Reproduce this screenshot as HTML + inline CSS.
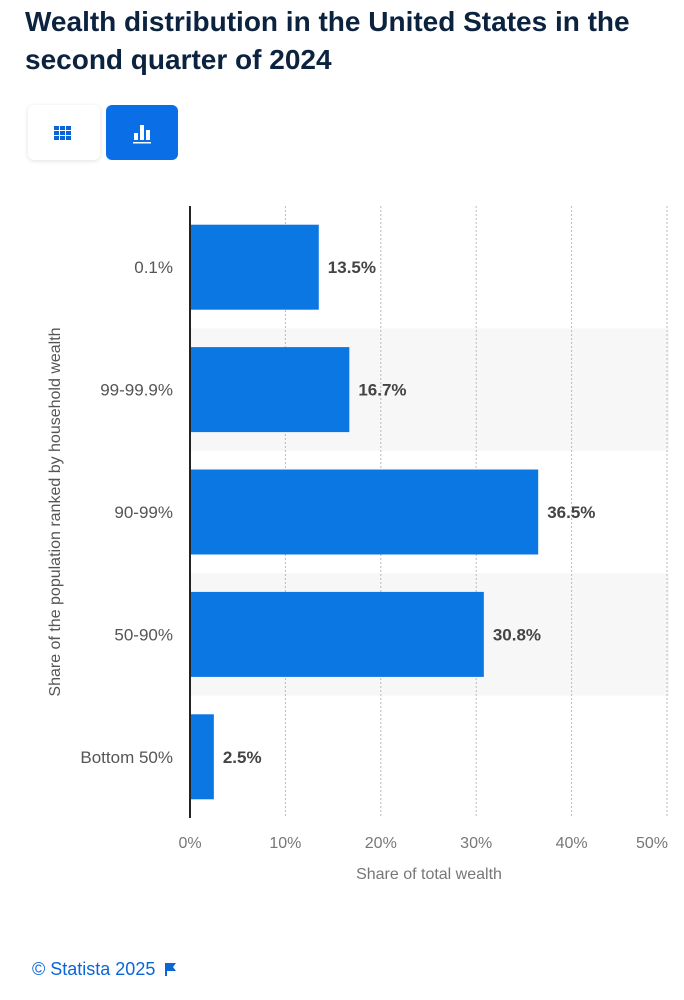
<!DOCTYPE html>
<html><head><meta charset="utf-8"><style>
body{margin:0;width:684px;height:1000px;background:#fff;font-family:"Liberation Sans",sans-serif;position:relative;overflow:hidden}
h1{position:absolute;left:25px;top:3px;margin:0;font-size:28px;line-height:38px;color:#0c2340;font-weight:bold;width:650px}
.btn{position:absolute;top:105px;width:72px;height:55px;border-radius:6px}
#foot{position:absolute;left:32px;top:959px;font-size:18px;color:#0a66d6}
</style></head><body>
<h1>Wealth distribution in the United States in the second quarter of 2024</h1>
<div class="btn" style="left:28px;background:#fff;box-shadow:0 1px 5px rgba(0,0,0,.12)">
<svg width="72" height="55"><g fill="#0a66d6"><rect x="26" y="21" width="5" height="4"/><rect x="32" y="21" width="5" height="4"/><rect x="38" y="21" width="5" height="4"/><rect x="26" y="26" width="5" height="4"/><rect x="32" y="26" width="5" height="4"/><rect x="38" y="26" width="5" height="4"/><rect x="26" y="31" width="5" height="4"/><rect x="32" y="31" width="5" height="4"/><rect x="38" y="31" width="5" height="4"/></g></svg></div>
<div class="btn" style="left:106px;background:#0a6fe6">
<svg width="72" height="55"><g fill="#fff"><rect x="28" y="28" width="4" height="7"/><rect x="34" y="20" width="4" height="15"/><rect x="40" y="25" width="4" height="10"/><rect x="27" y="37" width="18" height="1.5"/></g></svg></div>
<svg id="chart" width="684" height="900" style="position:absolute;left:0;top:0"></svg>
<div id="foot">© Statista 2025 <svg width="14" height="14" style="vertical-align:-1px;margin-left:4px"><path d="M2 1v13" stroke="#0a66d6" stroke-width="2"/><path d="M3 1h9l-3 4 3 4H3z" fill="#0a66d6"/></svg></div>
<script>
const categories=["0.1%","99-99.9%","90-99%","50-90%","Bottom 50%"];
const values=[13.5,16.7,36.5,30.8,2.5];
const ticks=[0,10,20,30,40,50];
const NS="http://www.w3.org/2000/svg",svg=document.getElementById('chart');
const x0=190,x1=667,plotTop=206,plotBottom=818,xmax=50;
const X=v=>x0+(x1-x0)*v/xmax,band=(plotBottom-plotTop)/categories.length,Y=i=>plotTop+band*i;
function mk(t,a,p){const e=document.createElementNS(NS,t);for(const k in a)e.setAttribute(k,a[k]);(p||svg).appendChild(e);return e}
categories.forEach((c,i)=>{if(i%2){const r=mk('rect',{x:x0,y:Y(i),width:x1-x0+2,height:band,fill:'#f7f7f7'});

}});
ticks.forEach(t=>{if(t>0){const l=mk('line',{x1:X(t),x2:X(t),y1:plotTop,y2:plotBottom,stroke:'#bbb','stroke-dasharray':'2,2'});

}
const tx=mk('text',{x:X(t)+(t==50?-15:0),y:848,'text-anchor':'middle','font-size':16,fill:'#777'});tx.textContent=t+'%';

});
categories.forEach((c,i)=>{const cy=Y(i)+band/2;
const b=mk('rect',{x:x0,y:cy-42.5,width:X(values[i])-x0,height:85,fill:'#0a77e3'});


const v=mk('text',{x:X(values[i])+9,y:cy+6,'font-size':17,'font-weight':'bold',fill:'#444'});v.textContent=values[i]+'%';


const l=mk('text',{x:173,y:cy+6,'text-anchor':'end','font-size':17,fill:'#555'});l.textContent=c;

});
const ax=mk('line',{x1:x0,x2:x0,y1:plotTop,y2:plotBottom,stroke:'#222','stroke-width':2});


const xt=mk('text',{x:429,y:879,'text-anchor':'middle','font-size':16,fill:'#777'});xt.textContent='Share of total wealth';


const yt=mk('text',{x:0,y:0,transform:'translate(60,512) rotate(-90)','text-anchor':'middle','font-size':16,fill:'#555'});yt.textContent='Share of the population ranked by household wealth';


</script>
</body></html>
